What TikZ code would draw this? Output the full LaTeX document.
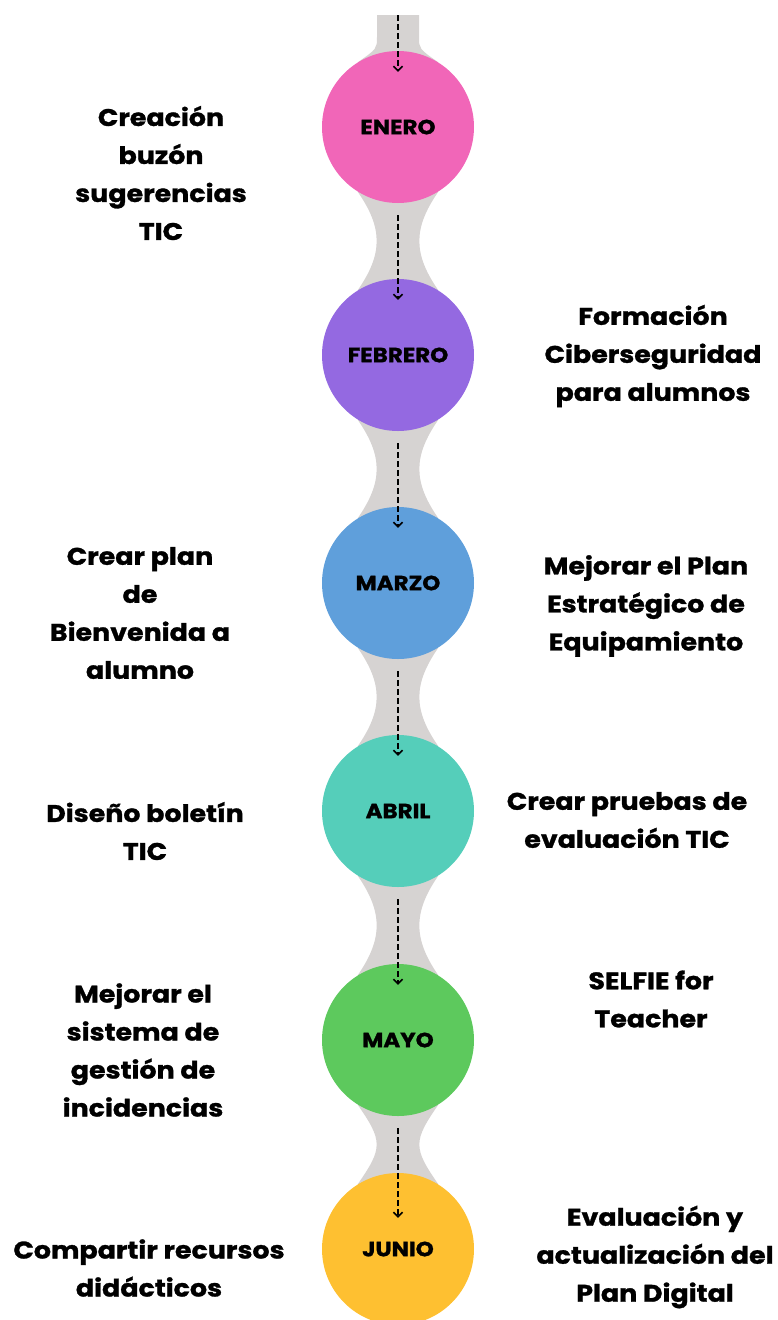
\documentclass[tikz,border=0pt]{standalone}
\usepackage{fontspec}
\setmainfont{Poppins}[FakeStretch=1.12, BoldFeatures={FakeBold=1.2}]
\usetikzlibrary{arrows.meta,calc}

\definecolor{enero}{HTML}{F166B8}
\definecolor{febrero}{HTML}{9469E1}
\definecolor{marzo}{HTML}{5F9FDB}
\definecolor{abril}{HTML}{55CEBA}
\definecolor{mayo}{HTML}{5DC95D}
\definecolor{junio}{HTML}{FEC031}
\definecolor{neckgray}{HTML}{D6D3D2}

\pgfdeclarelayer{background}
\pgfsetlayers{background,main}

\tikzset{
  month/.style={circle, minimum size=152pt, inner sep=0pt, font=\fontsize{20.5}{20.5}\selectfont\bfseries},
  task/.style={align=center, font=\fontsize{24}{38}\selectfont\bfseries},
  neck/.style={fill=neckgray},
  arr/.style={-{Straight Barb[length=4.5pt,width=9pt]}, line width=1.6pt, dash pattern=on 6pt off 3pt},
}

\begin{document}
\begin{tikzpicture}[x=1pt,y=-1pt]
\useasboundingbox (0,0) rectangle (778,1320);

% months
\coordinate (top) at (398,15);
\node[month, fill=enero] (m1) at (398,127) {ENERO};
\node[month, fill=febrero] (m2) at (398,355) {FEBRERO};
\node[month, fill=marzo] (m3) at (398,583) {MARZO};
\node[month, fill=abril] (m4) at (398,811) {ABRIL};
\node[month, fill=mayo] (m5) at (398,1040) {MAYO};
\node[month, fill=junio] (m6) at (398,1249) {JUNIO};

% tasks
\node[task] (t1) at (161,173) {Creación\\buzón\\sugerencias\\TIC};
\node[task] (t2) at (653,356) {Formación\\Ciberseguridad\\para alumnos};
\node[task] (t3) at (140,613) {Crear plan\\de\\Bienvenida a\\alumno};
\node[task] (t4) at (646,606) {Mejorar el Plan\\Estratégico de\\Equipamiento};
\node[task] (t5) at (145,831) {Diseño boletín\\TIC};
\node[task] (t6) at (627,820) {Crear pruebas de\\evaluación TIC};
\node[task] (t7) at (143,1050) {Mejorar el\\sistema de\\gestión de\\incidencias};
\node[task] (t8) at (651,999) {SELFIE for\\Teacher};
\node[task] (t9) at (149,1268) {Compartir recursos\\didácticos};
\node[task] (t10) at (655,1257) {Evaluación y\\actualización del\\Plan Digital};

% necks
\begin{pgfonlayer}{background}
\fill[neck] ($(top)+(-21,0)$) -- ($(m1.north)+(-21,-14)$) .. controls ($(m1.north)+(-21,-2)$) .. (m1.122)
  -- (m1.58) .. controls ($(m1.north)+(21,-2)$) .. ($(m1.north)+(21,-14)$) -- ($(top)+(21,0)$) -- cycle;
\foreach \a/\b in {m1/m2,m2/m3,m3/m4,m4/m5,m5/m6}{
  \fill[neck] (\a.238) .. controls ($(\a.south)+(-15,25)$) and ($(\b.north)+(-15,-25)$) .. (\b.122)
    -- (\b.58) .. controls ($(\b.north)+(15,-25)$) and ($(\a.south)+(15,25)$) .. (\a.302) -- cycle;
}
\end{pgfonlayer}

% arrows
\draw[arr] (top) -- ([yshift=-21pt]m1.north);
\foreach \a/\b/\s in {m1/m2/21,m2/m3/21,m3/m4/21,m4/m5/21,m5/m6/45}{
  \draw[arr] ([yshift=-12pt]\a.south) -- ([yshift=-\s pt]\b.north);
}

\end{tikzpicture}
\end{document}
